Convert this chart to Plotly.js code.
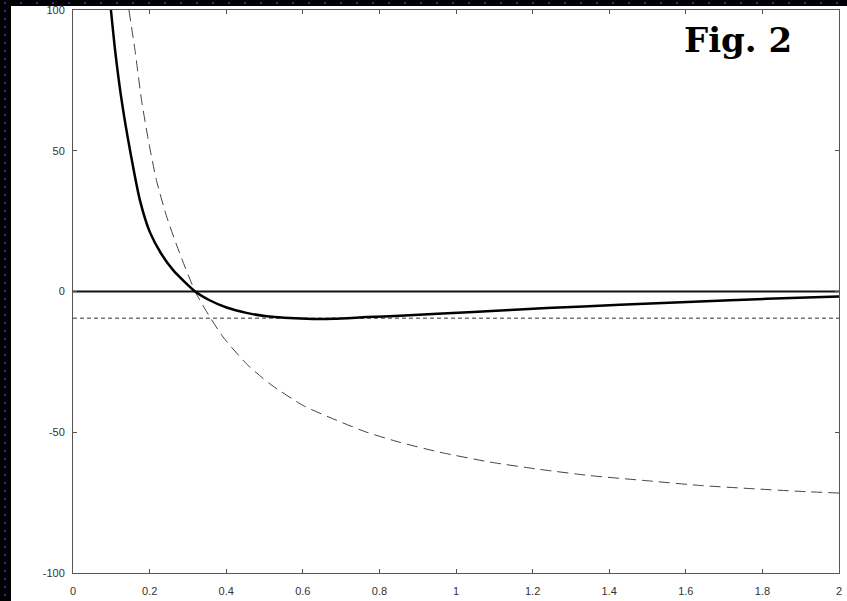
<!DOCTYPE html>
<html>
<head>
<meta charset="utf-8">
<script src="https://cdn.plot.ly/plotly-3.0.1.min.js"></script>
<style>
  html, body { margin:0; padding:0; width:847px; height:601px; overflow:hidden;
    background-color:#000;
    background-image: radial-gradient(circle at 5px 3px, #2a2ab0 0px, #2a2ab0 1px, transparent 1.4px);
    background-size: 16px 8px; }
  #white { position:absolute; left:11px; top:6px; width:836px; height:595px; background:#fff; }
  #plot { position:absolute; left:0; top:0; width:847px; height:601px; }
</style>
</head>
<body>
<div id="white"></div>
<div id="plot"></div>
<script>
// Solid (thick) curve
var solidX = [0.099, 0.110, 0.127, 0.149, 0.175, 0.201, 0.230, 0.262, 0.319, 0.358, 0.401, 0.453, 0.506, 0.61, 0.68, 0.767, 0.854, 1.045, 1.237, 1.428, 1.62, 1.811, 2.0];
var solidY = [100, 85.6, 67.9, 50.1, 32.3, 21.0, 13.5, 7.5, 0, -3.2, -5.7, -7.6, -8.8, -9.7, -9.7, -9.1, -8.6, -7.3, -5.9, -4.7, -3.6, -2.6, -1.8];
// Dashed curve
var dashedX = [0.146, 0.162, 0.179, 0.197, 0.218, 0.245, 0.279, 0.319, 0.349, 0.392, 0.453, 0.514, 0.601, 0.689, 0.767, 0.854, 0.958, 1.089, 1.219, 1.35, 1.505, 1.637, 1.767, 1.898, 2.0];
var dashedY = [100, 85.6, 67.9, 53.6, 39.4, 26.4, 13.4, 0, -7.2, -16.2, -25.7, -32.8, -40.5, -45.8, -50, -53.6, -57.1, -60.6, -63.2, -65.4, -67.3, -68.9, -70, -71, -71.6];
// Reference lines
var zeroX = [0, 2];
var zeroY = [0, 0];
var minX = [0, 2];
var minY = [-9.5, -9.5];
// Ticks
var xTickVals = [0, 0.2, 0.4, 0.6, 0.8, 1, 1.2, 1.4, 1.6, 1.8, 2];
var xTickText = ['0', '0.2', '0.4', '0.6', '0.8', '1', '1.2', '1.4', '1.6', '1.8', '2'];
var yTickVals = [-100, -50, 0, 50, 100];
var yTickText = ['-100', '-50', '0', '50', '100'];
var figLabel = 'Fig. 2';

var traces = [
  {x: zeroX, y: zeroY, mode: 'lines', line: {color: '#111', width: 2}, hoverinfo: 'skip'},
  {x: minX, y: minY, mode: 'lines', line: {color: '#777', width: 1.5, dash: '4px,3px'}, hoverinfo: 'skip'},
  {x: dashedX, y: dashedY, mode: 'lines', line: {color: '#444', width: 1, dash: '11px,6px', shape: 'spline', smoothing: 0.6}, hoverinfo: 'skip'},
  {x: solidX, y: solidY, mode: 'lines', line: {color: '#000', width: 2.5, shape: 'spline', smoothing: 0.6}, hoverinfo: 'skip'}
];

var axisFont = {family: 'Liberation Sans, Arial, sans-serif', size: 11, color: '#333'};

var layout = {
  width: 847, height: 601,
  margin: {l: 73, r: 8, t: 10, b: 28, pad: 0},
  paper_bgcolor: 'rgba(0,0,0,0)',
  plot_bgcolor: '#fff',
  showlegend: false,
  xaxis: {
    range: [0, 2], tickmode: 'array', tickvals: xTickVals, ticktext: xTickText,
    ticks: 'inside', ticklen: 4, tickcolor: '#555', tickwidth: 1,
    showline: true, linecolor: '#555', linewidth: 1, mirror: 'ticks',
    showgrid: false, zeroline: false, tickfont: axisFont, ticklabelstandoff: 8
  },
  yaxis: {
    range: [-100, 100], tickmode: 'array', tickvals: yTickVals, ticktext: yTickText,
    ticks: 'inside', ticklen: 4, tickcolor: '#555', tickwidth: 1,
    showline: true, linecolor: '#555', linewidth: 1, mirror: 'ticks',
    showgrid: false, zeroline: false, tickfont: axisFont, ticklabelstandoff: 5,
    ticklabeloverflow: 'allow'
  },
  annotations: [{
    text: '<b>' + figLabel + '</b>', xref: 'paper', yref: 'paper',
    x: 0.8675, y: 0.947, xanchor: 'center', yanchor: 'middle', showarrow: false,
    font: {family: 'DejaVu Serif, serif', size: 34, color: '#000'}
  }]
};

Plotly.newPlot('plot', traces, layout, {staticPlot: true, displayModeBar: false});
</script>
</body>
</html>
